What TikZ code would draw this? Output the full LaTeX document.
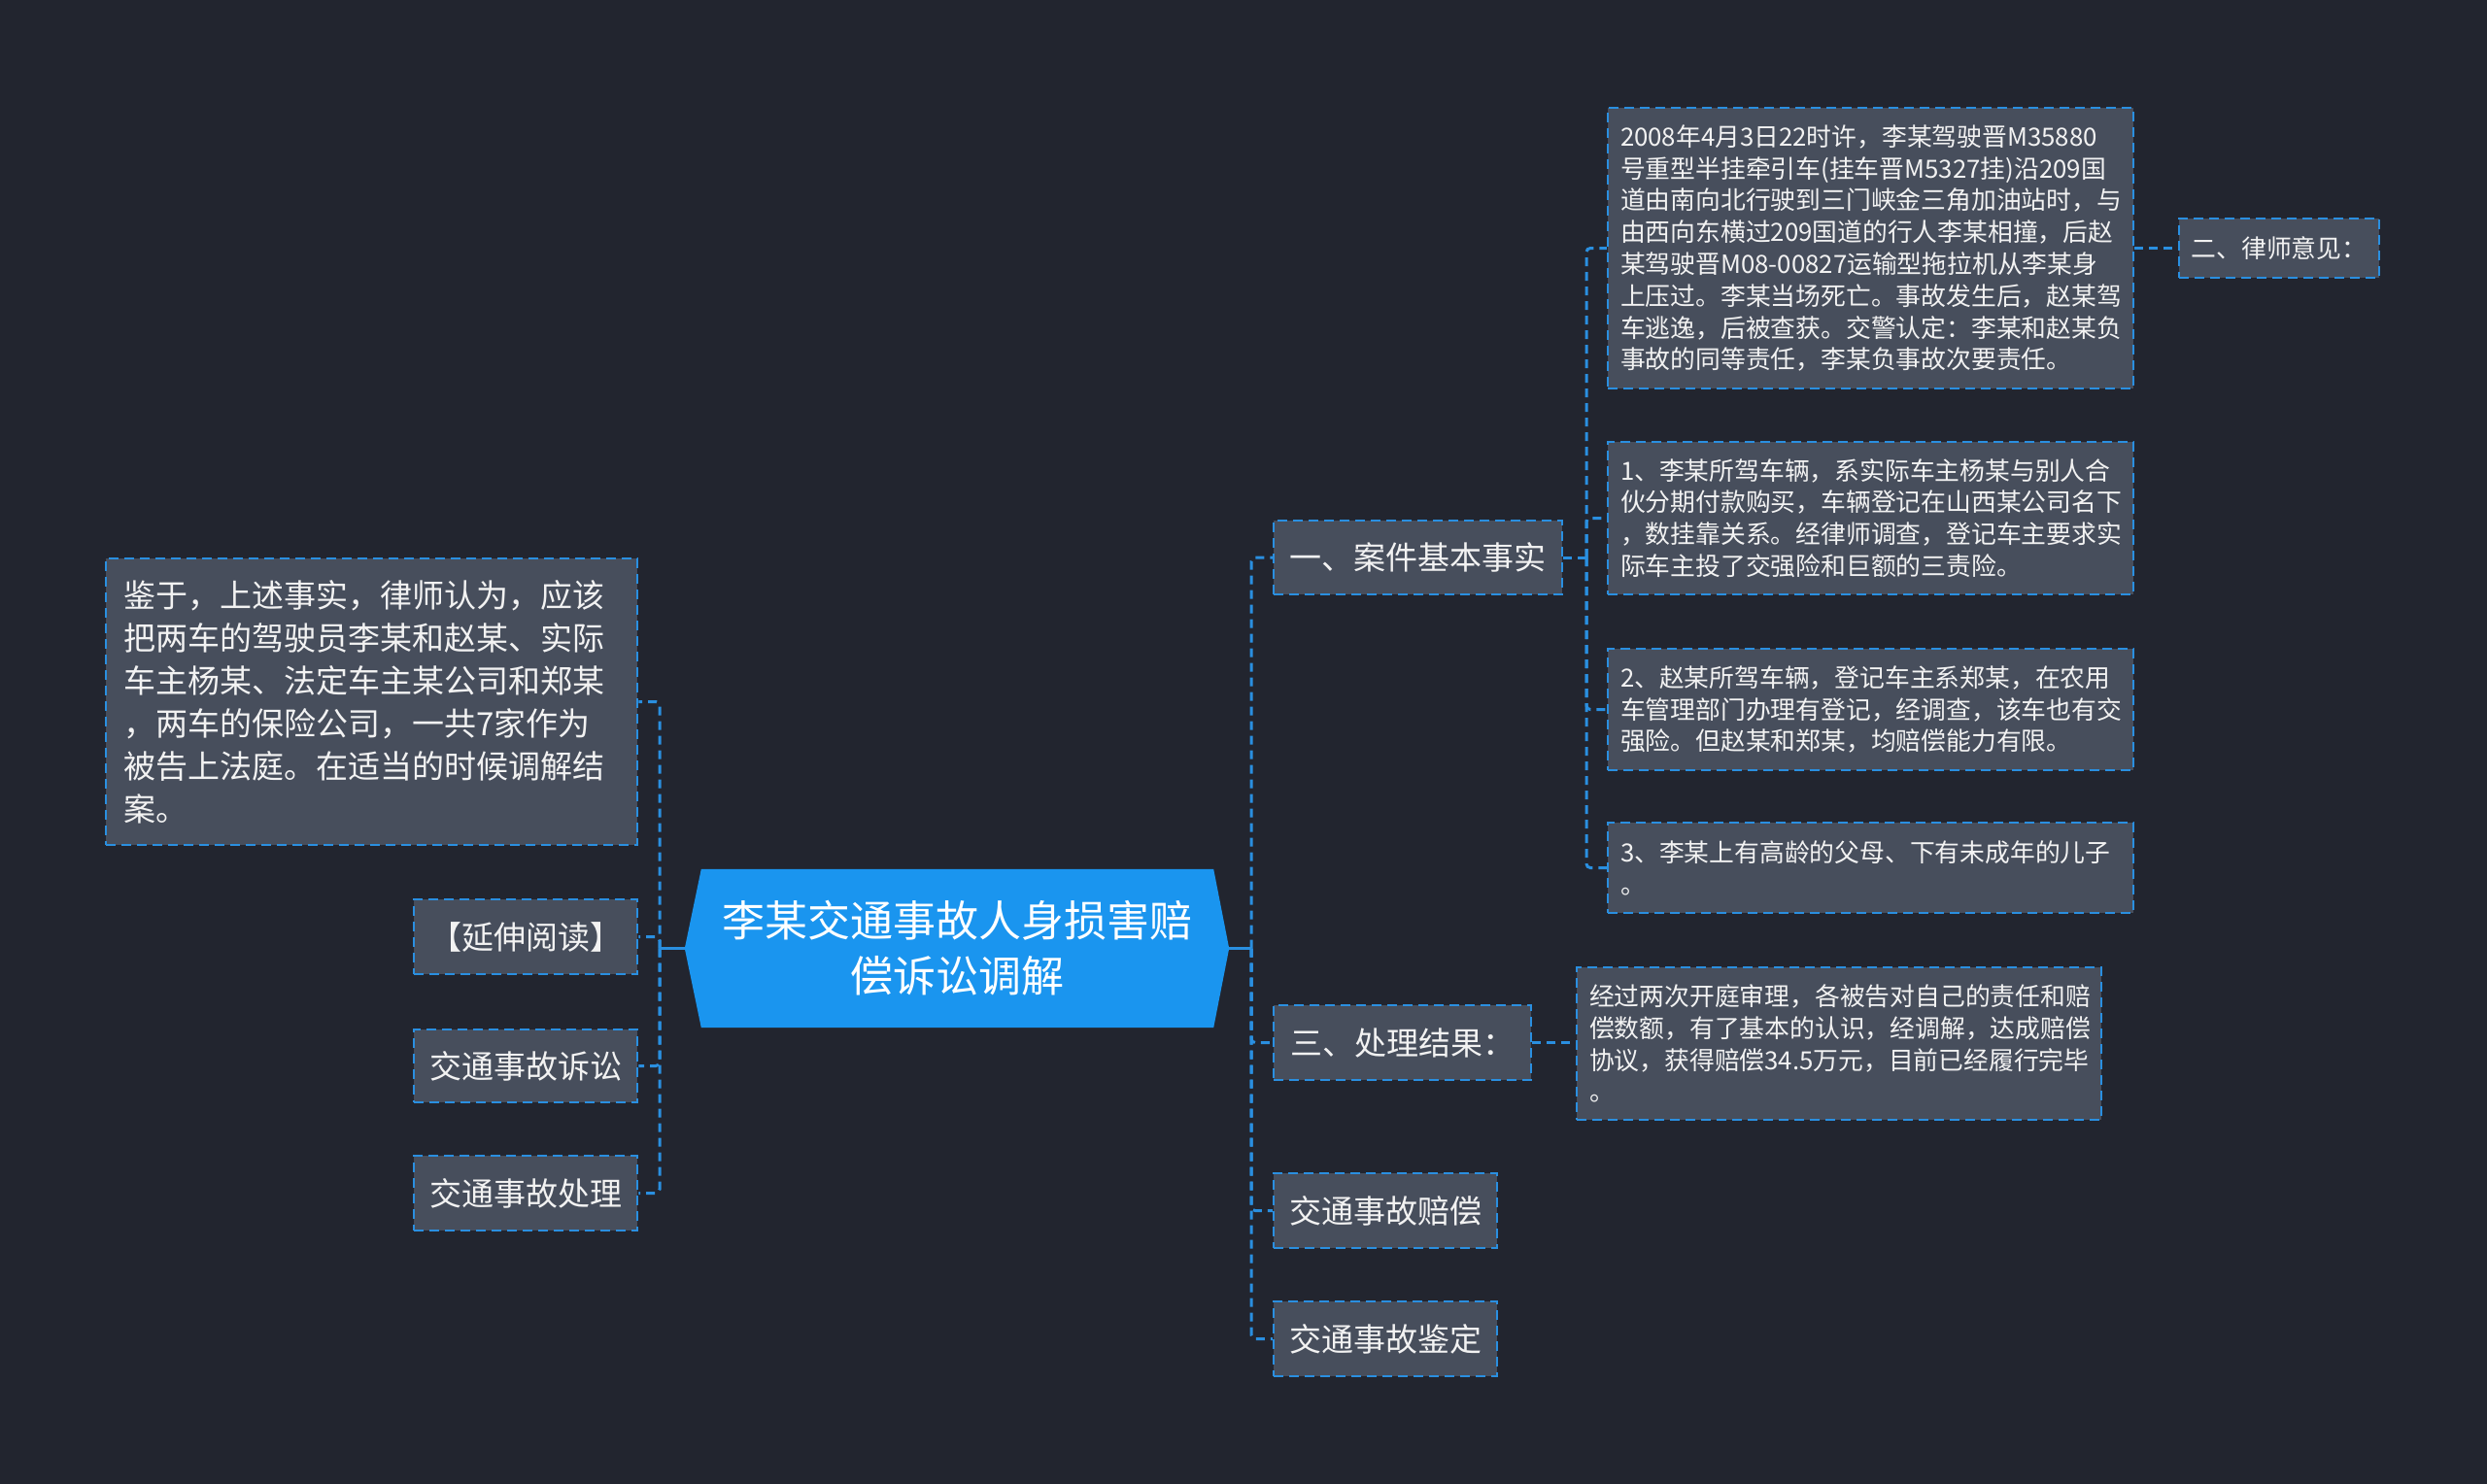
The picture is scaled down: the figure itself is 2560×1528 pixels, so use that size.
\documentclass[tikz,border=0pt]{standalone}
\usepackage{fontspec}
\setmainfont{Noto Sans CJK SC}
\newfontfamily\cjk{Noto Sans CJK SC}
\definecolor{bgc}{HTML}{22252F}
\definecolor{boxfill}{HTML}{474E5C}
\definecolor{edgeblue}{HTML}{2A8FE0}
\definecolor{rootblue}{HTML}{1A95EF}
\definecolor{txt}{HTML}{F2F2F2}
\tikzset{
  box/.style={draw=edgeblue, fill=boxfill, line width=2.5pt, dash pattern=on 10pt off 6pt,
    text=txt, inner sep=0pt, font=\cjk\fontsize{33}{44}\selectfont},
  detail/.style={box, align=left, inner xsep=13pt, font=\cjk\fontsize{25.8}{32.8}\selectfont,
    execute at begin node={\exhyphenpenalty=10000\hyphenpenalty=10000}},
  conn/.style={draw=edgeblue, line width=3pt, dash pattern=on 9pt off 6pt},
  solidconn/.style={draw=edgeblue, line width=3pt}
}
\begin{document}
\begin{tikzpicture}[x=1pt,y=-1pt]
\fill[bgc] (0,0) rectangle (2560,1528);
\useasboundingbox (0,0) rectangle (2560,1528);

% root
\node[minimum width=560pt, minimum height=163pt, inner sep=0pt] (root) at (985,976.5) {};
\fill[rootblue] (root.west) -- ([xshift=17pt]root.north west) -- ([xshift=-16pt]root.north east)
  -- (root.east) -- ([xshift=-16pt]root.south east) -- ([xshift=17pt]root.south west) -- cycle;
\node[text=white, align=center, font=\cjk\fontsize{44}{57}\selectfont] (roottext) at (root.center) {李某交通事故人身损害赔\\偿诉讼调解};

% right level 1
\node[box, minimum width=297pt, minimum height=76pt] (n1) at (1459.5,574) {一、案件基本事实};
\node[box, minimum width=265pt, minimum height=77pt] (n3) at (1443.5,1073.5) {三、处理结果：};
\node[box, minimum width=230pt, minimum height=77pt] (n4) at (1426,1246.5) {交通事故赔偿};
\node[box, minimum width=230pt, minimum height=77pt] (n5) at (1426,1378.5) {交通事故鉴定};

% right level 2
\node[detail, minimum width=541pt, text width=515pt, minimum height=289pt] (a) at (1925.5,255.5) {2008年4月3日22时许，李某驾驶晋M35880\\号重型半挂牵引车(挂车晋M5327挂)沿209国\\道由南向北行驶到三门峡金三角加油站时，与\\由西向东横过209国道的行人李某相撞，后赵\\某驾驶晋M08-00827运输型拖拉机从李某身\\上压过。李某当场死亡。事故发生后，赵某驾\\车逃逸，后被查获。交警认定：李某和赵某负\\事故的同等责任，李某负事故次要责任。};
\node[box, font=\cjk\fontsize{25.8}{32.8}\selectfont, minimum width=206pt, minimum height=61pt] (law) at (2346,255.5) {二、律师意见：};
\node[detail, minimum width=541pt, text width=515pt, minimum height=157pt] (b) at (1925.5,533.5) {1、李某所驾车辆，系实际车主杨某与别人合\\伙分期付款购买，车辆登记在山西某公司名下\\，数挂靠关系。经律师调查，登记车主要求实\\际车主投了交强险和巨额的三责险。};
\node[detail, minimum width=541pt, text width=515pt, minimum height=125pt] (c) at (1925.5,730.5) {2、赵某所驾车辆，登记车主系郑某，在农用\\车管理部门办理有登记，经调查，该车也有交\\强险。但赵某和郑某，均赔偿能力有限。};
\node[detail, minimum width=541pt, text width=515pt, minimum height=93pt] (d) at (1925.5,893.5) {3、李某上有高龄的父母、下有未成年的儿子\\。};
\node[detail, minimum width=540pt, text width=514pt, minimum height=157pt] (r) at (1893,1074.5) {经过两次开庭审理，各被告对自己的责任和赔\\偿数额，有了基本的认识，经调解，达成赔偿\\协议，获得赔偿34.5万元，目前已经履行完毕\\。};

% left
\node[box, align=left, inner xsep=18pt, text width=511pt, minimum width=547pt, minimum height=295pt] (l1) at (382.5,722.5) {鉴于，上述事实，律师认为，应该\\把两车的驾驶员李某和赵某、实际\\车主杨某、法定车主某公司和郑某\\，两车的保险公司，一共7家作为\\被告上法庭。在适当的时候调解结\\案。};
\node[box, minimum width=230pt, minimum height=77pt] (l2) at (541,964.5) {【延伸阅读】};
\node[box, minimum width=230pt, minimum height=75pt] (l3) at (541,1097.5) {交通事故诉讼};
\node[box, minimum width=230pt, minimum height=77pt] (l4) at (541,1228.5) {交通事故处理};

% trunks
\coordinate (rt) at (1288,976.5);
\coordinate (lt) at (679,976.5);
\coordinate (t2) at (1633,574);

\draw[solidconn] (root.east) -- (rt);
\draw[solidconn] (root.west) -- (lt);
\foreach \n in {n1,n3,n4,n5} \draw[conn, rounded corners=4pt] (rt) |- (\n.west);
\foreach \n in {l1,l2,l3,l4} \draw[conn, rounded corners=4pt] (lt) |- (\n.east);
\draw[conn] (n1.east) -- (t2);
\foreach \n in {a,b,c,d} \draw[conn, rounded corners=4pt] (t2) |- (\n.west);
\draw[conn] (a.east) -- (law.west);
\draw[conn] (n3.east) -- (r.west |- n3.east);
\end{tikzpicture}
\end{document}
